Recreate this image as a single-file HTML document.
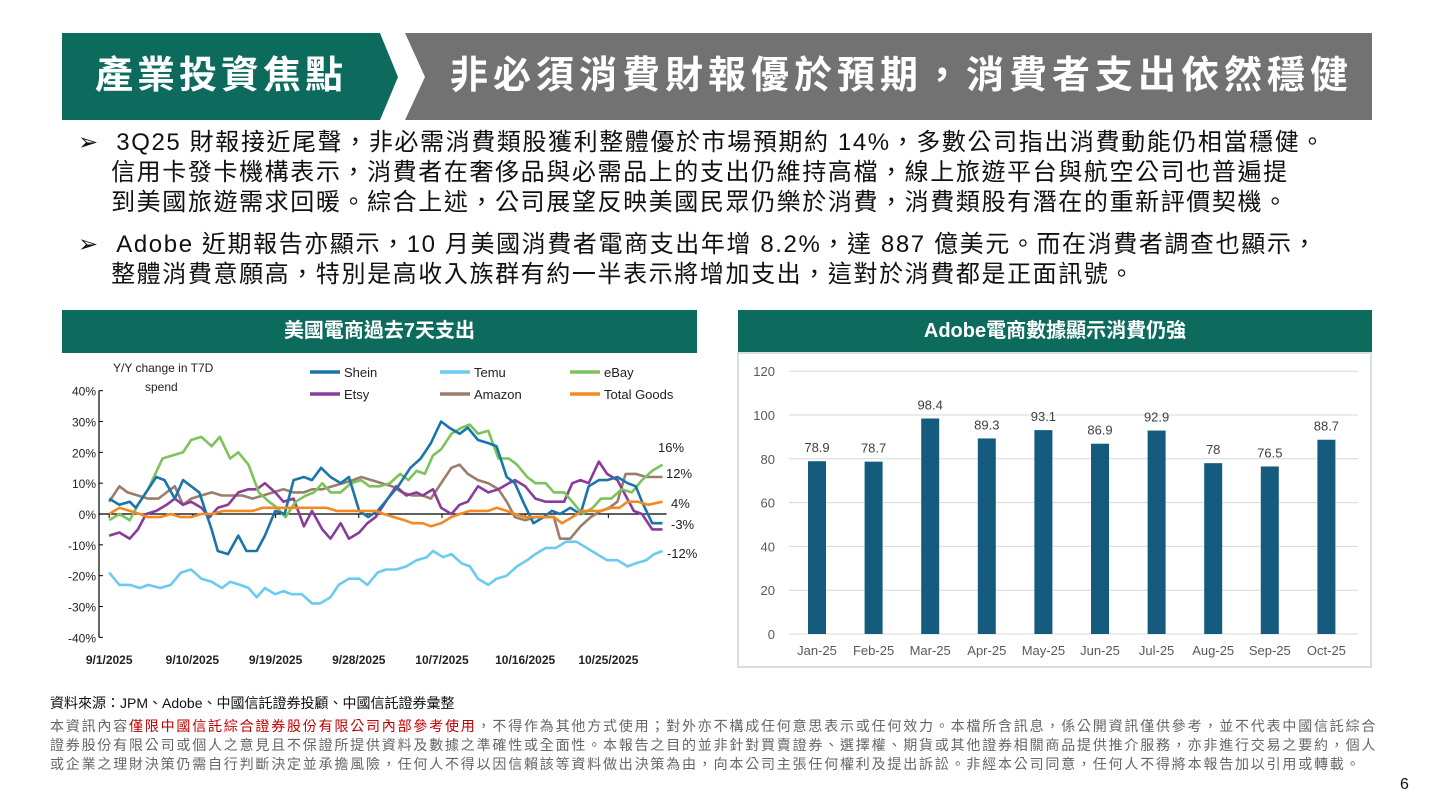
<!DOCTYPE html>
<html><head><meta charset="utf-8"><style>
body{margin:0;width:1429px;height:804px;background:#fff;position:relative;overflow:hidden;font-family:"Liberation Sans","Noto Sans CJK TC",sans-serif}
.a{position:absolute}
.bul{position:absolute;left:78px;font-size:24px;letter-spacing:1.6px;color:#111;line-height:30px;width:1340px;white-space:nowrap}
.sh{position:absolute;top:310px;height:43px;background:#0d6b5d;color:#fff;font-weight:bold;font-size:20px;text-align:center;line-height:43px}
</style></head><body>
<svg class="a" style="left:0;top:0" width="1429" height="130">
<polygon points="62,33 380,33 398,77 380,120 62,120" fill="#0d6b5d"/>
<polygon points="405,33 1372,33 1372,120 405,120 425,77" fill="#727272"/>
</svg>
<div class="a" style="left:62px;top:33px;width:318px;height:87px;line-height:87px;text-align:center;color:#fff;font-weight:bold;font-size:38px;letter-spacing:4px">產業投資焦點</div>
<div class="a" style="left:450px;top:33px;width:920px;height:87px;line-height:87px;color:#fff;font-weight:bold;font-size:38px;letter-spacing:5px;white-space:nowrap">非必須消費財報優於預期，消費者支出依然穩健</div>
<div class="bul" style="top:128px">➢ &nbsp;3Q25 財報接近尾聲，非必需消費類股獲利整體優於市場預期約 14%，多數公司指出消費動能仍相當穩健。<br>&nbsp;&nbsp;&nbsp;&nbsp;信用卡發卡機構表示，消費者在奢侈品與必需品上的支出仍維持高檔，線上旅遊平台與航空公司也普遍提<br>&nbsp;&nbsp;&nbsp;&nbsp;到美國旅遊需求回暖。綜合上述，公司展望反映美國民眾仍樂於消費，消費類股有潛在的重新評價契機。</div>
<div class="bul" style="top:230px">➢ &nbsp;Adobe 近期報告亦顯示，10 月美國消費者電商支出年增 8.2%，達 887 億美元。而在消費者調查也顯示，<br>&nbsp;&nbsp;&nbsp;&nbsp;整體消費意願高，特別是高收入族群有約一半表示將增加支出，這對於消費都是正面訊號。</div>
<div class="sh" style="left:62px;width:635px">美國電商過去7天支出</div>
<div class="sh" style="left:738px;width:634px">Adobe電商數據顯示消費仍強</div>
<svg id="lc" class="a" style="left:0;top:0" width="710" height="690" font-family="Liberation Sans,sans-serif"></svg>
<svg id="rc" class="a" style="left:0;top:0" width="1429" height="690" font-family="Liberation Sans,sans-serif"></svg>
<div class="a" style="left:50px;top:693px;font-size:14px;color:#111">資料來源：JPM、Adobe、中國信託證券投顧、中國信託證券彙整</div>
<div class="a" style="left:50px;top:717px;width:1345px;font-size:14px;letter-spacing:1.8px;line-height:19px;color:#666;white-space:nowrap">本資訊內容<span style="color:#c00000">僅限中國信託綜合證券股份有限公司內部參考使用</span>，不得作為其他方式使用；對外亦不構成任何意思表示或任何效力。本檔所含訊息，係公開資訊僅供參考，並不代表中國信託綜合<br>證券股份有限公司或個人之意見且不保證所提供資料及數據之準確性或全面性。本報告之目的並非針對買賣證券、選擇權、期貨或其他證券相關商品提供推介服務，亦非進行交易之要約，個人<br>或企業之理財決策仍需自行判斷決定並承擔風險，任何人不得以因信賴該等資料做出決策為由，向本公司主張任何權利及提出訴訟。非經本公司同意，任何人不得將本報告加以引用或轉載。</div>
<div class="a" style="left:1400px;top:776px;font-size:16px;color:#111">6</div>
<script>
var L=document.getElementById('lc'),h='';
function X(z){return 60+z/2.44} function Y(v){return 514-v*3.083}
h+='<line x1="99" y1="'+Y(40)+'" x2="99" y2="'+Y(-40)+'" stroke="#000" stroke-width="1.2"/>';
h+='<line x1="99" y1="514" x2="'+X(1480)+'" y2="514" stroke="#000" stroke-width="1.2"/>';
for(var v=40;v>=-40;v-=10){h+='<text x="96" y="'+(Y(v)+5)+'" font-size="12" text-anchor="end" fill="#222">'+v+'%</text><line x1="99" x2="103" y1="'+Y(v)+'" y2="'+Y(v)+'" stroke="#000"/>';}
var dl=['9/1/2025','9/10/2025','9/19/2025','9/28/2025','10/7/2025','10/16/2025','10/25/2025'];
for(var i=0;i<7;i++){var zx=120+i*203;h+='<text x="'+X(zx)+'" y="664" font-size="12" font-weight="bold" text-anchor="middle" fill="#222">'+dl[i]+'</text><line x1="'+X(zx)+'" x2="'+X(zx)+'" y1="514" y2="518" stroke="#000"/>';}
h+='<text x="113" y="372" font-size="12" fill="#222">Y/Y change in T7D</text><text x="145" y="391" font-size="12" fill="#222">spend</text>';
var S={
'#1a75a8':[120,5,145,3,170,4,185,2,235,12,255,11,280,5,300,11,340,7,370,-5,385,-12,410,-13,435,-7,455,-12,480,-12,500,-7,525,1,548,0,570,11,595,12,615,11,637,15,660,12,685,10,705,12,730,1,752,-1,775,1,800,5,825,9,855,15,880,18,905,23,930,30,950,28,975,26,995,28,1020,24,1045,23,1065,22,1090,12,1110,10,1130,4,1155,-3,1180,-1,1200,1,1220,0,1245,2,1270,0,1290,9,1315,11,1335,11,1360,12,1385,10,1405,9,1420,4,1445,-3,1470,-3],
'#6ccaf0':[120,-19,145,-23,170,-23,195,-24,215,-23,245,-24,270,-23,295,-19,320,-18,345,-21,370,-22,395,-24,415,-22,440,-23,460,-24,480,-27,500,-24,525,-26,545,-25,565,-26,590,-26,615,-29,635,-29,660,-27,680,-23,705,-21,730,-21,750,-23,775,-19,795,-18,820,-18,845,-17,870,-15,895,-14,910,-12,935,-14,955,-13,980,-16,1000,-17,1020,-21,1045,-23,1065,-21,1090,-20,1115,-17,1140,-15,1160,-13,1185,-11,1210,-11,1235,-9,1260,-9,1285,-11,1310,-13,1335,-15,1360,-15,1385,-17,1405,-16,1430,-15,1450,-13,1470,-12],
'#7cc35a':[120,-2,145,0,170,-2,190,3,215,8,250,18,275,19,300,20,320,24,345,25,370,22,390,25,415,18,435,20,460,16,485,7,510,4,530,2,550,-1,575,4,600,6,620,7,640,10,660,7,685,7,710,10,735,11,755,9,780,9,805,10,830,13,850,11,870,14,890,13,910,19,930,21,955,26,980,28,1000,29,1020,26,1045,27,1070,18,1095,18,1115,16,1140,12,1160,10,1185,10,1205,7,1230,7,1250,4,1275,0,1300,2,1320,5,1345,5,1370,8,1395,7,1420,11,1445,14,1470,16],
'#8a3c9a':[120,-7,145,-6,170,-8,190,-5,210,0,235,1,260,3,280,5,300,3,320,4,345,2,365,-1,385,2,410,3,435,7,460,8,480,8,500,10,525,7,545,4,570,5,595,-4,615,1,640,-5,660,-8,685,-3,705,-8,730,-6,750,-3,770,-1,795,4,820,9,845,6,870,7,885,6,910,8,930,2,955,0,975,3,995,4,1020,9,1045,7,1070,8,1095,10,1110,11,1135,9,1160,5,1185,4,1210,4,1230,4,1250,10,1270,11,1290,10,1315,17,1335,13,1360,11,1380,6,1400,1,1420,0,1445,-5,1470,-5],
'#9a7d6c':[120,4,145,9,165,7,190,6,215,5,240,5,260,7,280,9,300,3,320,5,345,6,370,7,395,6,420,6,445,6,470,5,495,6,520,7,545,8,570,7,595,7,615,8,640,8,665,9,690,10,715,11,735,12,760,11,785,10,810,9,835,7,860,6,885,6,905,5,930,10,955,15,975,16,995,13,1020,11,1045,10,1070,8,1090,4,1110,-1,1135,-2,1160,-1,1185,-1,1205,-1,1220,-8,1245,-8,1270,-4,1295,-1,1320,1,1340,2,1360,4,1380,13,1405,13,1430,12,1470,12],
'#f28a24':[120,0,145,2,170,1,195,0,215,-1,245,-1,270,0,295,-1,320,-1,345,0,370,0,400,1,420,1,445,1,470,1,495,2,520,2,545,2,570,2,600,2,625,2,650,2,675,1,700,1,720,1,745,1,770,1,790,0,815,-1,840,-2,860,-3,885,-3,905,-4,930,-3,955,-1,975,0,1000,1,1020,1,1045,1,1065,2,1090,1,1110,0,1135,-1,1160,-1,1185,-1,1205,-1,1225,-3,1250,-1,1275,1,1300,1,1320,1,1345,2,1365,2,1385,4,1410,4,1435,3,1470,4]};
var order=['#9a7d6c','#6ccaf0','#8a3c9a','#7cc35a','#1a75a8','#f28a24'];
order.forEach(function(c){var a=S[c],p='';for(var i=0;i<a.length;i+=2)p+=X(a[i]).toFixed(1)+','+Y(a[i+1]).toFixed(1)+' ';h+='<polyline points="'+p+'" fill="none" stroke="'+c+'" stroke-width="2.6" stroke-linejoin="round"/>';});
var lg=[['#1a75a8','Shein',310,372],['#6ccaf0','Temu',440,372],['#7cc35a','eBay',570,372],['#8a3c9a','Etsy',310,394],['#9a7d6c','Amazon',440,394],['#f28a24','Total Goods',570,394]];
lg.forEach(function(l){h+='<line x1="'+l[2]+'" x2="'+(l[2]+30)+'" y1="'+l[3]+'" y2="'+l[3]+'" stroke="'+l[0]+'" stroke-width="3.5"/><text x="'+(l[2]+34)+'" y="'+(l[3]+5)+'" font-size="13" fill="#222">'+l[1]+'</text>';});
[['16%',658,452],['12%',666,478],['4%',671,508],['-3%',671,529],['-12%',667,558]].forEach(function(t){h+='<text x="'+t[1]+'" y="'+t[2]+'" font-size="13" fill="#222">'+t[0]+'</text>';});
L.innerHTML=h;
var R=document.getElementById('rc'),g='<rect x="738" y="353" width="633" height="314" fill="#fff" stroke="#d6dfe6" stroke-width="2"/>';
function RY(v){return 634-v*2.19}
for(var v=0;v<=120;v+=20){g+='<line x1="789" x2="1358" y1="'+RY(v)+'" y2="'+RY(v)+'" stroke="#d9d9d9"/><text x="775" y="'+(RY(v)+5)+'" font-size="13" text-anchor="end" fill="#595959">'+v+'</text>';}
var vals=[78.9,78.7,98.4,89.3,93.1,86.9,92.9,78,76.5,88.7],m=['Jan-25','Feb-25','Mar-25','Apr-25','May-25','Jun-25','Jul-25','Aug-25','Sep-25','Oct-25'];
for(var i=0;i<10;i++){var cx=817+i*56.6;g+='<rect x="'+(cx-9)+'" y="'+RY(vals[i])+'" width="18" height="'+(634-RY(vals[i]))+'" fill="#155b7d"/><text x="'+cx+'" y="'+(RY(vals[i])-9)+'" font-size="13" text-anchor="middle" fill="#404040">'+vals[i]+'</text><text x="'+cx+'" y="655" font-size="13" text-anchor="middle" fill="#595959">'+m[i]+'</text>';}
R.innerHTML=g;
</script>
</body></html>
